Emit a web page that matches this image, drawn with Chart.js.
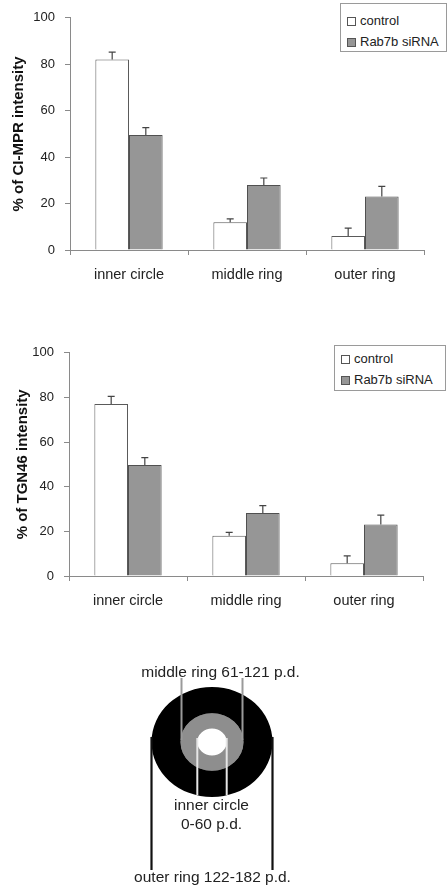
<!DOCTYPE html>
<html><head><meta charset="utf-8">
<script src="https://cdn.jsdelivr.net/npm/chart.js@4.4.1/dist/chart.umd.min.js"></script>
<style>
html,body{margin:0;padding:0;background:#fff;}
body{width:447px;height:886px;position:relative;overflow:hidden;font-family:"Liberation Sans",Arial,sans-serif;color:#222;}
.box{position:absolute;}
.legend{position:absolute;border:1px solid #9a9a9a;box-sizing:border-box;background:#fff;font-size:13px;color:#222;}
.legend .sw{position:absolute;width:7px;height:7px;border:1px solid #555;}
.legend .tx{position:absolute;white-space:nowrap;line-height:16px;}
.lbl{position:absolute;white-space:nowrap;font-size:15.5px;transform:translate(-50%,-50%);line-height:1;color:#222;}
</style></head><body>
<div class="box" style="left:0;top:0;width:447px;height:300px"><canvas id="c1"></canvas></div>
<div class="box" style="left:0;top:320px;width:447px;height:300px"><canvas id="c2"></canvas></div>
<div class="box" style="left:0;top:620px;width:447px;height:266px"><canvas id="c3"></canvas></div>
<div id="leg1" class="legend" style="left:340px;top:3px;width:107px;height:49px"></div>
<div id="leg2" class="legend" style="left:334px;top:345px;width:112px;height:46px"></div>
<div class="lbl" style="left:220.5px;top:672px">middle ring 61-121 p.d.</div>
<div class="lbl" style="left:211.5px;top:805px">inner circle</div>
<div class="lbl" style="left:211.5px;top:824px">0-60 p.d.</div>
<div class="lbl" style="left:212.5px;top:877px">outer ring 122-182 p.d.</div>
<script>
// ---- data ----
const categories = ['inner circle', 'middle ring', 'outer ring'];
const seriesNames = ['control', 'Rab7b siRNA'];
const yTicks = [0, 20, 40, 60, 80, 100];

const cimprControl = [82, 12, 6];
const cimprControlErr = [3.2, 1.4, 3.4];
const cimprSirna = [49.5, 28, 23];
const cimprSirnaErr = [3.2, 3.0, 4.4];

const tgnControl = [77, 18, 5.7];
const tgnControlErr = [3.4, 1.5, 3.3];
const tgnSirna = [49.7, 28.2, 23.1];
const tgnSirnaErr = [3.3, 3.3, 4.2];

const ringNames = ['outer ring 122-182 p.d.', 'middle ring 61-121 p.d.', 'inner circle 0-60 p.d.'];
const ringValues = [1, 1, 1];

// ---- styles ----
const FONT = '"Liberation Sans", Arial, sans-serif';
const AXIS = '#8a8a8a';
const FILLS = ['#ffffff', '#969696'];
const BORDERS = ['#5a5a5a', '#505050'];

const errorBars = {
  id: 'errorBars',
  afterDatasetsDraw(chart) {
    const ctx = chart.ctx, y = chart.scales.y;
    chart.data.datasets.forEach((ds, i) => {
      const meta = chart.getDatasetMeta(i);
      meta.data.forEach((bar, j) => {
        const yTop = y.getPixelForValue(ds.data[j] + ds.errors[j]);
        ctx.save();
        ctx.strokeStyle = '#444';
        ctx.lineWidth = 1.2;
        ctx.beginPath();
        ctx.moveTo(bar.x, bar.y);
        ctx.lineTo(bar.x, yTop);
        ctx.moveTo(bar.x - 3.5, yTop);
        ctx.lineTo(bar.x + 3.5, yTop);
        ctx.stroke();
        ctx.restore();
      });
    });
  }
};

function makeBar(id, ctrl, ctrlErr, sir, sirErr, cfg) {
  return new Chart(document.getElementById(id), {
    type: 'bar',
    data: {
      labels: categories,
      datasets: [
        { label: seriesNames[0], data: ctrl, errors: ctrlErr, backgroundColor: FILLS[0], borderColor: BORDERS[0], borderWidth: 1,
          categoryPercentage: 0.57, barPercentage: 1 },
        { label: seriesNames[1], data: sir, errors: sirErr, backgroundColor: FILLS[1], borderColor: BORDERS[1], borderWidth: 1,
          categoryPercentage: 0.57, barPercentage: 1 }
      ]
    },
    options: {
      responsive: true, maintainAspectRatio: false, animation: false,
      layout: { padding: { left: 0, right: cfg.padRight, top: cfg.padTop, bottom: 0 } },
      plugins: { legend: { display: false }, tooltip: { enabled: false } },
      scales: {
        x: {
          grid: { display: true, drawOnChartArea: false, drawTicks: true, tickLength: 5, color: AXIS, offset: true },
          border: { color: AXIS, width: 1 },
          ticks: { color: '#222', font: { family: FONT, size: 14.5 }, padding: cfg.xPad, maxRotation: 0 },
          afterFit(s) { s.height = cfg.xH; }
        },
        y: {
          min: 0, max: 100,
          afterBuildTicks(s) { s.ticks = yTicks.map(v => ({ value: v })); },
          ticks: { color: '#222', font: { family: FONT, size: 13 }, padding: 10 },
          grid: { drawOnChartArea: false, drawTicks: true, tickLength: 5, color: AXIS },
          border: { color: AXIS, width: 1 },
          title: { display: true, text: cfg.title, color: '#111', font: { family: FONT, size: 15, weight: 'bold' },
                   padding: { top: cfg.titlePad, bottom: 0 } },
          afterFit(s) { s.width = cfg.yW; }
        }
      }
    },
    plugins: [errorBars]
  });
}

const ch1 = makeBar('c1', cimprControl, cimprControlErr, cimprSirna, cimprSirnaErr,
  { padRight: 23, padTop: 13, xH: 50, yW: 70, xPad: 11, title: '% of CI-MPR intensity', titlePad: 10 });
const ch2 = makeBar('c2', tgnControl, tgnControlErr, tgnSirna, tgnSirnaErr,
  { padRight: 24, padTop: 32.7, xH: 44, yW: 69, xPad: 11, title: '% of TGN46 intensity', titlePad: 14 });

function buildLegend(elId, chart, rows) {
  const el = document.getElementById(elId);
  chart.data.datasets.forEach((ds, i) => {
    const sw = document.createElement('span');
    sw.className = 'sw';
    sw.style.left = '6px';
    sw.style.top = (rows[i] - 4.5) + 'px';
    sw.style.background = ds.backgroundColor;
    const tx = document.createElement('span');
    tx.className = 'tx';
    tx.style.left = '19px';
    tx.style.top = (rows[i] - 8) + 'px';
    tx.textContent = ds.label;
    el.appendChild(sw); el.appendChild(tx);
  });
}
buildLegend('leg1', ch1, [17, 38]);
buildLegend('leg2', ch2, [13, 34]);

// ---- ring diagram ----
const SQUASH = 0.91;
const squash = {
  id: 'squash',
  beforeDatasetsDraw(chart) {
    const a = chart.getDatasetMeta(0).data[0];
    const ctx = chart.ctx;
    ctx.save();
    ctx.translate(a.x, a.y); ctx.scale(1, SQUASH); ctx.translate(-a.x, -a.y);
  },
  afterDatasetsDraw(chart) { chart.ctx.restore(); }
};
const leaders = {
  id: 'leaders',
  afterDraw(chart) {
    const ctx = chart.ctx;
    const o = chart.getDatasetMeta(0).data[0];
    const m = chart.getDatasetMeta(1).data[0];
    const n = chart.getDatasetMeta(2).data[0];
    const cx = o.x, cy = o.y;
    const line = (x, y1, y2, col, w) => {
      ctx.save(); ctx.strokeStyle = col; ctx.lineWidth = w;
      ctx.beginPath(); ctx.moveTo(x, y1); ctx.lineTo(x, y2); ctx.stroke(); ctx.restore();
    };
    // middle ring leaders
    line(cx - m.outerRadius + 1, 58, cy - 2, '#9a9a9a', 2);
    line(cx + m.outerRadius - 1, 58, cy - 2, '#9a9a9a', 2);
    // inner circle leaders
    const bottom = cy + o.outerRadius * SQUASH - 2;
    line(cx - n.outerRadius, cy - 4, bottom, '#e6e6e6', 2);
    line(cx + n.outerRadius, cy - 4, bottom, '#e6e6e6', 2);
    // outer ring leaders
    line(cx - o.outerRadius, cy - 5, 250, '#111', 2.2);
    line(cx + o.outerRadius, cy - 5, 250, '#111', 2.2);
  }
};
new Chart(document.getElementById('c3'), {
  type: 'doughnut',
  data: {
    labels: ['zone'],
    datasets: [
      { label: ringNames[0], data: [ringValues[0]], backgroundColor: '#000000', weight: 29, borderWidth: 0 },
      { label: ringNames[1], data: [ringValues[1]], backgroundColor: '#8e8e8e', weight: 16.8, borderWidth: 0 },
      { label: ringNames[2], data: [ringValues[2]], backgroundColor: '#ffffff', weight: 14.7, borderWidth: 0 }
    ]
  },
  options: {
    responsive: true, maintainAspectRatio: false, animation: false, cutout: 0,
    layout: { padding: { left: 151.5, right: 174.5, top: 61.5, bottom: 83.5 } },
    plugins: { legend: { display: false }, tooltip: { enabled: false } }
  },
  plugins: [squash, leaders]
});
</script>
</body></html>
